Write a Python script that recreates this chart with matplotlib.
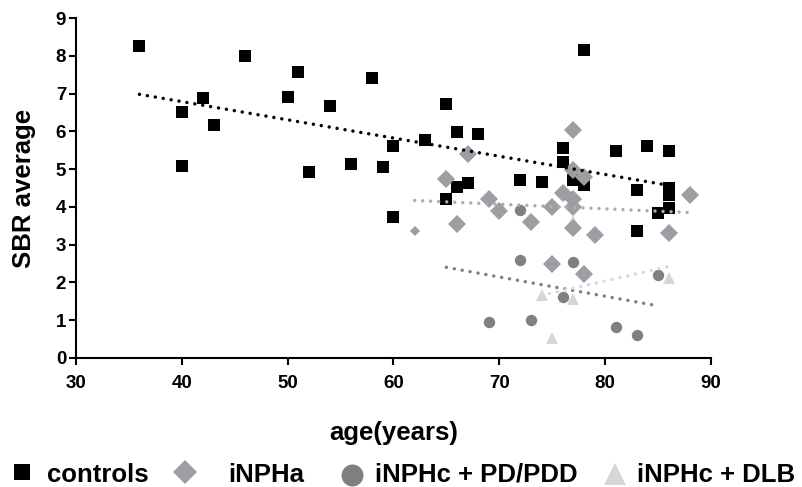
import numpy as np
import matplotlib
matplotlib.use("Agg")
import matplotlib.pyplot as plt
from matplotlib.lines import Line2D

plt.rcParams['font.family'] = ['Liberation Sans', 'DejaVu Sans']
plt.rcParams['font.weight'] = 'bold'

# data
ctrl_age = [36, 40, 40, 42, 43, 46, 50, 51, 52, 54, 56, 58, 59, 60, 60, 63, 65, 65, 66,
            66, 67, 68, 72, 74, 76, 76, 77, 78, 78, 81, 83, 83, 84, 85, 86, 86, 86, 86]
ctrl_sbr = [8.25, 6.5, 5.07, 6.87, 6.18, 7.99, 6.9, 7.58, 4.92, 6.66, 5.13, 7.4, 5.05,
            5.61, 3.72, 5.76, 6.72, 4.2, 5.97, 4.52, 4.62, 5.94, 4.70, 4.67, 5.55, 5.19,
            4.71, 8.15, 4.58, 5.48, 4.46, 3.36, 5.61, 3.83, 5.48, 4.5, 4.31, 3.96]

inpha_age = [62, 65, 66, 67, 69, 70, 73, 75, 75, 76, 77, 77, 77, 77, 77, 78, 78, 79, 86, 88]
inpha_sbr = [3.37, 4.75, 3.54, 5.40, 4.21, 3.90, 3.60, 4.0, 2.50, 4.36, 6.03, 4.97,
             4.22, 4.0, 3.43, 4.80, 2.23, 3.25, 3.30, 4.31]

pd_age = [69, 72, 72, 73, 76, 77, 81, 83, 85]
pd_sbr = [0.96, 3.93, 2.60, 1.01, 1.62, 2.55, 0.82, 0.60, 2.20]

dlb_age = [74, 75, 77, 77, 86]
dlb_sbr = [1.66, 0.52, 1.57, 3.62, 2.13]

# trend lines (start/end)
ctrl_trend_x, ctrl_trend_y = [36, 86], [6.98, 4.57]
inpha_trend_x, inpha_trend_y = [62, 88], [4.17, 3.85]
pd_trend_x, pd_trend_y = [65, 85], [2.40, 1.38]
dlb_trend_x, dlb_trend_y = [74, 86], [1.66, 2.42]

x_ticks = [30, 40, 50, 60, 70, 80, 90]
y_ticks = [0, 1, 2, 3, 4, 5, 6, 7, 8, 9]
labels = ['controls', 'iNPHa', 'iNPHc + PD/PDD', 'iNPHc + DLB']

c_diam = '#9d9da3'
c_circ = '#808080'
c_tri = '#d6d6d6'

fig = plt.figure(figsize=(8.03, 4.87), dpi=100)
ax = fig.add_axes([0.0946, 0.2649, 0.7908, 0.6981])

ax.plot(ctrl_age, ctrl_sbr, 's', color='black', ms=8, mew=0, zorder=3)
ax.plot(dlb_age, dlb_sbr, '^', color=c_tri, ms=8, mew=0, zorder=3.2)
ax.plot(pd_age, pd_sbr, 'o', color=c_circ, ms=8.2, mew=0, zorder=3.4)
ax.plot(inpha_age[1:], inpha_sbr[1:], 'D', color=c_diam, ms=8.8, mew=0, zorder=3.6)
ax.plot(inpha_age[:1], inpha_sbr[:1], 'D', color=c_diam, ms=4.8, mew=0, zorder=3.6)

dot = (0, (0.01, 2.3))
for tx, ty, col in [(ctrl_trend_x, ctrl_trend_y, 'black'),
                    (inpha_trend_x, inpha_trend_y, '#acacac'),
                    (pd_trend_x, pd_trend_y, '#7f7f7f'),
                    (dlb_trend_x, dlb_trend_y, '#d9d9d9')]:
    ax.plot(tx, ty, color=col, lw=2.5, linestyle=dot, dash_capstyle='round', zorder=4)

ax.set_xlim(30, 90)
ax.set_ylim(0, 9)
ax.set_xticks(x_ticks, labels=[str(v) for v in x_ticks], fontweight='bold', fontsize=13.5)
ax.set_yticks(y_ticks, labels=[str(v) for v in y_ticks], fontweight='bold', fontsize=13.5)
for s in ['top', 'right']:
    ax.spines[s].set_visible(False)
for s in ['left', 'bottom']:
    ax.spines[s].set_linewidth(1.5)
ax.tick_params(width=1.5, length=5, direction='out')
ax.tick_params(axis='x', pad=7)
ax.tick_params(axis='y', pad=2)
ax.set_xlabel('age(years)', fontsize=18.5, fontweight='bold', labelpad=21)
ax.set_ylabel('SBR average', fontsize=18.5, fontweight='bold', labelpad=14)

# legend laid out by hand along the bottom
W, H = 803.0, 487.0
items = [('s', 'black', 12.2, 22, 472, 47),
         ('D', c_diam, 12.0, 185, 472, 228),
         ('o', c_circ, 15.8, 352, 475, 375),
         ('^', c_tri, 16.5, 615, 474, 637)]
for (m, col, ms, mx, my, tx), lab in zip(items, labels):
    fig.add_artist(Line2D([mx / W], [1 - my / H], marker=m, color=col, ms=ms, mew=0,
                          ls='', transform=fig.transFigure))
    fig.text(tx / W, 1 - 482 / H, lab, fontsize=18.5, fontweight='bold',
             ha='left', va='baseline')

fig.savefig('out.png', dpi=100)
